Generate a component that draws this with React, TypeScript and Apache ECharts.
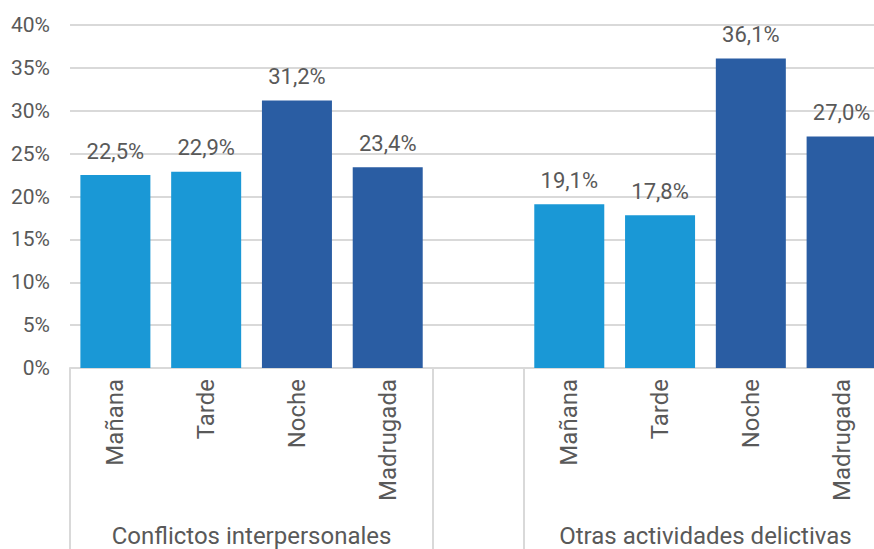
import React, { useEffect, useRef } from "react";
import * as echarts from "echarts";

const categories = ["Mañana", "Tarde", "Noche", "Madrugada", "", "Mañana", "Tarde", "Noche", "Madrugada"];
const values: (number | null)[] = [22.5, 22.9, 31.2, 23.4, null, 19.1, 17.8, 36.1, 27.0];
const groups = ["Conflictos interpersonales", "Otras actividades delictivas"];
const groupCenters = [2, 7];
const groupBounds = [0, 4, 5, 9];
const yTicks = [0, 5, 10, 15, 20, 25, 30, 35, 40];

const LIGHT = "#1a98d6";
const DARK = "#2a5da3";
const TEXT = "#595959";
const LINE = "#d9d9d9";
const FONT = "Roboto, 'Noto Sans', sans-serif";

export default function App() {
  const ref = useRef<HTMLDivElement>(null);
  useEffect(() => {
    if (!ref.current) return;
    const chart = echarts.init(ref.current, null, { renderer: "svg" });
    chart.setOption({
      animation: false,
      textStyle: { fontFamily: FONT },
      grid: { left: 70, right: 0, top: 25, bottom: 181, containLabel: false },
      xAxis: [
        {
          type: "category",
          data: categories,
          axisLine: { show: true, lineStyle: { color: LINE, width: 2 } },
          axisTick: { show: false },
          axisLabel: {
            rotate: 90,
            margin: 11,
            fontSize: 24,
            color: TEXT,
            fontFamily: FONT,
            interval: 0,
          },
        },
        {
          type: "value",
          position: "bottom",
          min: 0,
          max: 9,
          axisLine: { show: false },
          splitLine: { show: false },
          axisTick: {
            show: true,
            length: 181,
            customValues: groupBounds,
            lineStyle: { color: LINE, width: 2 },
          },
          axisLabel: {
            show: true,
            customValues: groupCenters,
            margin: 156,
            fontSize: 24,
            color: TEXT,
            fontFamily: FONT,
            formatter: (v: number) => groups[groupCenters.indexOf(v)] ?? "",
          },
        },
      ],
      yAxis: {
        type: "value",
        min: yTicks[0],
        max: yTicks[yTicks.length - 1],
        interval: 5,
        axisLine: { show: false },
        axisTick: { show: false },
        splitLine: { lineStyle: { color: LINE, width: 2 } },
        axisLabel: {
          margin: 20,
          fontSize: 21,
          color: TEXT,
          fontFamily: FONT,
          formatter: (v: number) => v + "%",
        },
      },
      series: [
        {
          type: "bar",
          xAxisIndex: 0,
          barWidth: 70,
          data: values.map((v, i) => ({
            value: v === null ? "-" : v,
            itemStyle: {
              color: categories[i] === "Noche" || categories[i] === "Madrugada" ? DARK : LIGHT,
            },
          })),
          label: {
            show: true,
            position: "top",
            distance: 13,
            fontSize: 22,
            color: TEXT,
            fontFamily: FONT,
            formatter: (p: any) => (typeof p.value === "number" ? p.value.toFixed(1).replace(".", ",") + "%" : ""),
          },
        },
      ],
    });
    return () => chart.dispose();
  }, []);
  return (
    <div style={{ position: "absolute", left: 0, top: 0, width: 874, height: 549, overflow: "hidden", background: "#fff" }}>
      <div ref={ref} style={{ width: 887, height: 549 }} />
    </div>
  );
}
